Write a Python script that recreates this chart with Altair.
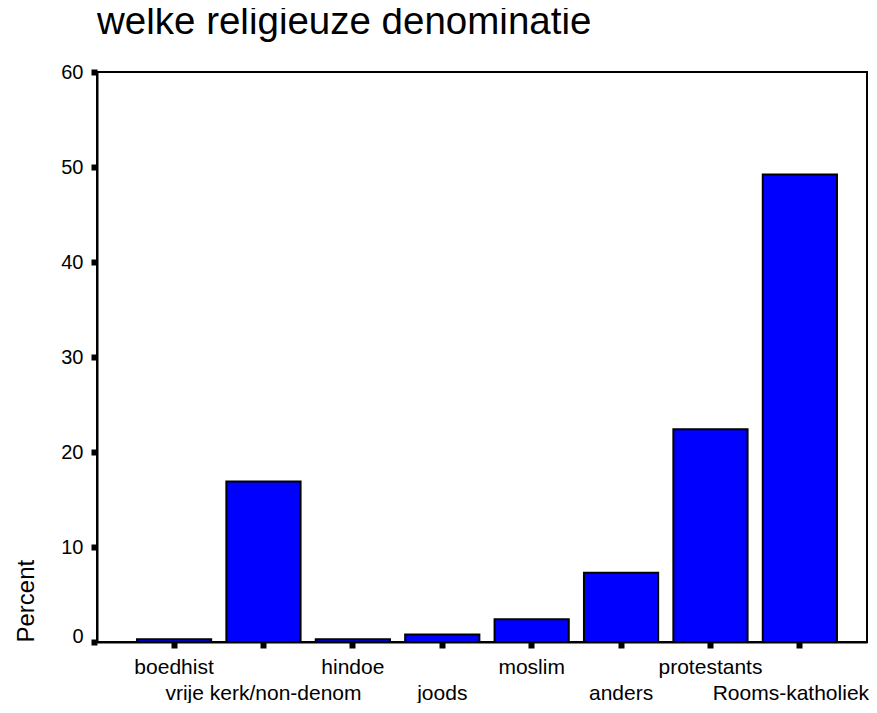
import json
import altair as alt
import pandas as pd

categories = ["boedhist", "vrije kerk/non-denom", "hindoe", "joods",
              "moslim", "anders", "protestants", "Rooms-katholiek"]
percents = [0.3, 16.9, 0.3, 0.8, 2.4, 7.3, 22.4, 49.2]
y_ticks = [0, 10, 20, 30, 40, 50, 60]

df = pd.DataFrame({"cat": categories, "pct": percents})
second_row = categories[1::2]
lower_test = "indexof(" + json.dumps(second_row) + ", datum.value) >= 0"
last_test = "datum.value === " + json.dumps(categories[-1])

FONT = "Liberation Sans"

chart = alt.Chart(df).mark_bar(
    color="#0000FF", stroke="black", strokeWidth=2
).encode(
    x=alt.X(
        "cat:N", sort=categories, title=None,
        scale=alt.Scale(paddingInner=0.17, paddingOuter=0.3915, align=0.571),
        axis=alt.Axis(
            labelAngle=0, labelFont=FONT, labelFontSize=21, labelColor="black",
            labelOverlap=False, labelLimit=400, labelAlign="center",
            labelBaseline="alphabetic",
            labelPadding={"condition": {"test": lower_test, "value": 51}, "value": 25},
            labelOffset={"condition": {"test": last_test, "value": -9}, "value": 0},
            tickSize=6, tickWidth=6, tickColor="black",
            domainColor="black", domainWidth=2, grid=False,
        ),
    ),
    y=alt.Y(
        "pct:Q",
        scale=alt.Scale(domain=[0, 60], nice=False),
        axis=alt.Axis(
            values=y_ticks, title="Percent", grid=False,
            labelFont=FONT, labelFontSize=20, labelColor="black", labelPadding=8,
            labelBaseline={"condition": {"test": "datum.value === 0", "value": "alphabetic"}, "value": "middle"},
            tickSize=6, tickWidth=6, tickColor="black",
            domainColor="black", domainWidth=2,
            titleFont=FONT, titleFontSize=24, titleFontWeight="normal", titleColor="black",
            titleAngle=270, titleAlign="left", titleBaseline="alphabetic",
            titleX=-64, titleY=570,
        ),
    ),
).properties(
    width=770, height=570,
    title=alt.Title(
        "welke religieuze denominatie", anchor="start", frame="group",
        fontSize=38.5, font=FONT,
        fontWeight="normal", color="black", baseline="alphabetic", offset=-10,
    ),
    autosize="none",
    padding={"left": 89, "top": 64, "right": 2, "bottom": 61},
).configure_view(stroke="black", strokeWidth=2)

chart.save("out.html", embed_options={"renderer": "svg", "actions": False})
